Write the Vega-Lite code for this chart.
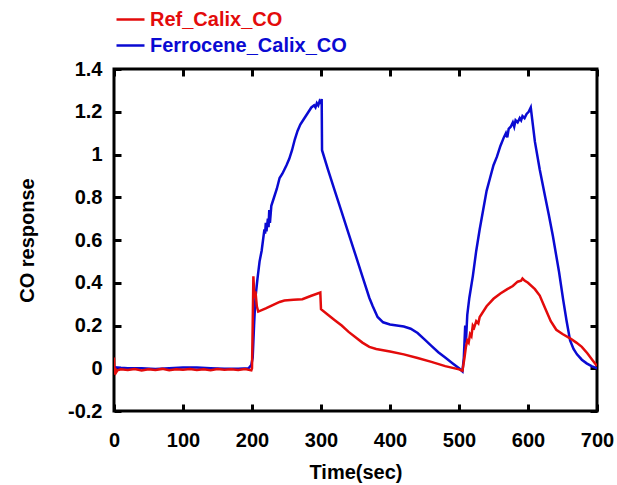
{
  "$schema": "https://vega.github.io/schema/vega-lite/v6.json",
  "autosize": "none",
  "width": 483,
  "height": 342,
  "padding": {"left": 114, "top": 69, "right": 20, "bottom": 74},
  "background": "white",
  "config": {
    "view": {"stroke": "black", "strokeWidth": 3},
    "axis": {
      "domain": false, "grid": false, "labelFlush": false,
      "tickColor": "black", "tickWidth": 3, "tickSize": -7,
      "labelFont": "Liberation Sans", "labelFontWeight": "bold", "labelFontSize": 20, "labelColor": "black",
      "titleFont": "Liberation Sans", "titleFontWeight": "bold", "titleFontSize": 20, "titleColor": "black"
    }
  },
  "datasets": {
    "pts": [
      {"s":"Ferrocene_Calix_CO","t":0,"v":0.005},{"s":"Ferrocene_Calix_CO","t":10,"v":0.002},{"s":"Ferrocene_Calix_CO","t":20,"v":0.0},{"s":"Ferrocene_Calix_CO","t":40,"v":0.0},{"s":"Ferrocene_Calix_CO","t":60,"v":-0.003},{"s":"Ferrocene_Calix_CO","t":80,"v":0.0},{"s":"Ferrocene_Calix_CO","t":100,"v":0.004},{"s":"Ferrocene_Calix_CO","t":120,"v":0.003},{"s":"Ferrocene_Calix_CO","t":140,"v":0.0},{"s":"Ferrocene_Calix_CO","t":160,"v":-0.002},{"s":"Ferrocene_Calix_CO","t":180,"v":-0.002},{"s":"Ferrocene_Calix_CO","t":195,"v":0.0},{"s":"Ferrocene_Calix_CO","t":199,"v":0.015},{"s":"Ferrocene_Calix_CO","t":201,"v":0.05},{"s":"Ferrocene_Calix_CO","t":203,"v":0.2},{"s":"Ferrocene_Calix_CO","t":205,"v":0.33},{"s":"Ferrocene_Calix_CO","t":208,"v":0.42},{"s":"Ferrocene_Calix_CO","t":211,"v":0.5},{"s":"Ferrocene_Calix_CO","t":214,"v":0.55},{"s":"Ferrocene_Calix_CO","t":216,"v":0.6},{"s":"Ferrocene_Calix_CO","t":218,"v":0.65},{"s":"Ferrocene_Calix_CO","t":219,"v":0.63},{"s":"Ferrocene_Calix_CO","t":220,"v":0.68},{"s":"Ferrocene_Calix_CO","t":221,"v":0.64},{"s":"Ferrocene_Calix_CO","t":223,"v":0.7},{"s":"Ferrocene_Calix_CO","t":224,"v":0.66},{"s":"Ferrocene_Calix_CO","t":225,"v":0.74},{"s":"Ferrocene_Calix_CO","t":226,"v":0.68},{"s":"Ferrocene_Calix_CO","t":228,"v":0.76},{"s":"Ferrocene_Calix_CO","t":232,"v":0.8},{"s":"Ferrocene_Calix_CO","t":236,"v":0.84},{"s":"Ferrocene_Calix_CO","t":240,"v":0.89},{"s":"Ferrocene_Calix_CO","t":244,"v":0.91},{"s":"Ferrocene_Calix_CO","t":247,"v":0.93},{"s":"Ferrocene_Calix_CO","t":250,"v":0.95},{"s":"Ferrocene_Calix_CO","t":254,"v":0.98},{"s":"Ferrocene_Calix_CO","t":258,"v":1.02},{"s":"Ferrocene_Calix_CO","t":262,"v":1.07},{"s":"Ferrocene_Calix_CO","t":266,"v":1.11},{"s":"Ferrocene_Calix_CO","t":270,"v":1.14},{"s":"Ferrocene_Calix_CO","t":274,"v":1.16},{"s":"Ferrocene_Calix_CO","t":278,"v":1.18},{"s":"Ferrocene_Calix_CO","t":282,"v":1.2},{"s":"Ferrocene_Calix_CO","t":286,"v":1.22},{"s":"Ferrocene_Calix_CO","t":290,"v":1.23},{"s":"Ferrocene_Calix_CO","t":292,"v":1.22},{"s":"Ferrocene_Calix_CO","t":294,"v":1.24},{"s":"Ferrocene_Calix_CO","t":296,"v":1.23},{"s":"Ferrocene_Calix_CO","t":298,"v":1.25},{"s":"Ferrocene_Calix_CO","t":300,"v":1.24},{"s":"Ferrocene_Calix_CO","t":301,"v":1.26},{"s":"Ferrocene_Calix_CO","t":301.5,"v":1.02},{"s":"Ferrocene_Calix_CO","t":310,"v":0.93},{"s":"Ferrocene_Calix_CO","t":320,"v":0.83},{"s":"Ferrocene_Calix_CO","t":330,"v":0.73},{"s":"Ferrocene_Calix_CO","t":340,"v":0.63},{"s":"Ferrocene_Calix_CO","t":350,"v":0.53},{"s":"Ferrocene_Calix_CO","t":360,"v":0.43},{"s":"Ferrocene_Calix_CO","t":370,"v":0.33},{"s":"Ferrocene_Calix_CO","t":375,"v":0.29},{"s":"Ferrocene_Calix_CO","t":382,"v":0.24},{"s":"Ferrocene_Calix_CO","t":390,"v":0.215},{"s":"Ferrocene_Calix_CO","t":400,"v":0.205},{"s":"Ferrocene_Calix_CO","t":410,"v":0.2},{"s":"Ferrocene_Calix_CO","t":420,"v":0.195},{"s":"Ferrocene_Calix_CO","t":430,"v":0.185},{"s":"Ferrocene_Calix_CO","t":440,"v":0.165},{"s":"Ferrocene_Calix_CO","t":450,"v":0.135},{"s":"Ferrocene_Calix_CO","t":460,"v":0.105},{"s":"Ferrocene_Calix_CO","t":470,"v":0.075},{"s":"Ferrocene_Calix_CO","t":480,"v":0.05},{"s":"Ferrocene_Calix_CO","t":490,"v":0.025},{"s":"Ferrocene_Calix_CO","t":500,"v":0.0},{"s":"Ferrocene_Calix_CO","t":505,"v":-0.015},{"s":"Ferrocene_Calix_CO","t":507,"v":0.05},{"s":"Ferrocene_Calix_CO","t":509,"v":0.2},{"s":"Ferrocene_Calix_CO","t":510,"v":0.12},{"s":"Ferrocene_Calix_CO","t":512,"v":0.25},{"s":"Ferrocene_Calix_CO","t":515,"v":0.33},{"s":"Ferrocene_Calix_CO","t":520,"v":0.43},{"s":"Ferrocene_Calix_CO","t":525,"v":0.55},{"s":"Ferrocene_Calix_CO","t":530,"v":0.65},{"s":"Ferrocene_Calix_CO","t":535,"v":0.74},{"s":"Ferrocene_Calix_CO","t":540,"v":0.83},{"s":"Ferrocene_Calix_CO","t":545,"v":0.89},{"s":"Ferrocene_Calix_CO","t":550,"v":0.95},{"s":"Ferrocene_Calix_CO","t":555,"v":0.99},{"s":"Ferrocene_Calix_CO","t":560,"v":1.04},{"s":"Ferrocene_Calix_CO","t":565,"v":1.08},{"s":"Ferrocene_Calix_CO","t":568,"v":1.1},{"s":"Ferrocene_Calix_CO","t":570,"v":1.08},{"s":"Ferrocene_Calix_CO","t":572,"v":1.12},{"s":"Ferrocene_Calix_CO","t":575,"v":1.13},{"s":"Ferrocene_Calix_CO","t":578,"v":1.15},{"s":"Ferrocene_Calix_CO","t":580,"v":1.13},{"s":"Ferrocene_Calix_CO","t":582,"v":1.16},{"s":"Ferrocene_Calix_CO","t":585,"v":1.15},{"s":"Ferrocene_Calix_CO","t":588,"v":1.17},{"s":"Ferrocene_Calix_CO","t":590,"v":1.16},{"s":"Ferrocene_Calix_CO","t":592,"v":1.18},{"s":"Ferrocene_Calix_CO","t":595,"v":1.17},{"s":"Ferrocene_Calix_CO","t":598,"v":1.19},{"s":"Ferrocene_Calix_CO","t":601,"v":1.2},{"s":"Ferrocene_Calix_CO","t":604,"v":1.22},{"s":"Ferrocene_Calix_CO","t":610,"v":1.06},{"s":"Ferrocene_Calix_CO","t":617,"v":0.93},{"s":"Ferrocene_Calix_CO","t":625,"v":0.8},{"s":"Ferrocene_Calix_CO","t":630,"v":0.72},{"s":"Ferrocene_Calix_CO","t":636,"v":0.62},{"s":"Ferrocene_Calix_CO","t":645,"v":0.45},{"s":"Ferrocene_Calix_CO","t":651,"v":0.32},{"s":"Ferrocene_Calix_CO","t":656,"v":0.22},{"s":"Ferrocene_Calix_CO","t":661,"v":0.13},{"s":"Ferrocene_Calix_CO","t":666,"v":0.09},{"s":"Ferrocene_Calix_CO","t":671,"v":0.065},{"s":"Ferrocene_Calix_CO","t":678,"v":0.04},{"s":"Ferrocene_Calix_CO","t":685,"v":0.023},{"s":"Ferrocene_Calix_CO","t":692,"v":0.01},{"s":"Ferrocene_Calix_CO","t":700,"v":0.0},
      {"s":"Ref_Calix_CO","t":0,"v":0.05},{"s":"Ref_Calix_CO","t":1,"v":-0.03},{"s":"Ref_Calix_CO","t":2,"v":0.0},{"s":"Ref_Calix_CO","t":3,"v":-0.02},{"s":"Ref_Calix_CO","t":5,"v":-0.01},{"s":"Ref_Calix_CO","t":10,"v":-0.005},{"s":"Ref_Calix_CO","t":20,"v":-0.008},{"s":"Ref_Calix_CO","t":30,"v":-0.004},{"s":"Ref_Calix_CO","t":40,"v":-0.01},{"s":"Ref_Calix_CO","t":50,"v":-0.005},{"s":"Ref_Calix_CO","t":60,"v":-0.008},{"s":"Ref_Calix_CO","t":70,"v":-0.003},{"s":"Ref_Calix_CO","t":80,"v":-0.009},{"s":"Ref_Calix_CO","t":90,"v":-0.005},{"s":"Ref_Calix_CO","t":100,"v":-0.007},{"s":"Ref_Calix_CO","t":110,"v":-0.004},{"s":"Ref_Calix_CO","t":120,"v":-0.008},{"s":"Ref_Calix_CO","t":130,"v":-0.005},{"s":"Ref_Calix_CO","t":140,"v":-0.009},{"s":"Ref_Calix_CO","t":150,"v":-0.004},{"s":"Ref_Calix_CO","t":160,"v":-0.007},{"s":"Ref_Calix_CO","t":170,"v":-0.005},{"s":"Ref_Calix_CO","t":180,"v":-0.008},{"s":"Ref_Calix_CO","t":190,"v":-0.004},{"s":"Ref_Calix_CO","t":199,"v":-0.01},{"s":"Ref_Calix_CO","t":200,"v":0.0},{"s":"Ref_Calix_CO","t":201,"v":0.2},{"s":"Ref_Calix_CO","t":202,"v":0.43},{"s":"Ref_Calix_CO","t":203.5,"v":0.33},{"s":"Ref_Calix_CO","t":205,"v":0.36},{"s":"Ref_Calix_CO","t":207,"v":0.29},{"s":"Ref_Calix_CO","t":209,"v":0.265},{"s":"Ref_Calix_CO","t":220,"v":0.28},{"s":"Ref_Calix_CO","t":230,"v":0.295},{"s":"Ref_Calix_CO","t":240,"v":0.31},{"s":"Ref_Calix_CO","t":247,"v":0.317},{"s":"Ref_Calix_CO","t":260,"v":0.32},{"s":"Ref_Calix_CO","t":273,"v":0.323},{"s":"Ref_Calix_CO","t":285,"v":0.338},{"s":"Ref_Calix_CO","t":299,"v":0.354},{"s":"Ref_Calix_CO","t":300,"v":0.276},{"s":"Ref_Calix_CO","t":310,"v":0.25},{"s":"Ref_Calix_CO","t":320,"v":0.225},{"s":"Ref_Calix_CO","t":330,"v":0.2},{"s":"Ref_Calix_CO","t":340,"v":0.17},{"s":"Ref_Calix_CO","t":350,"v":0.145},{"s":"Ref_Calix_CO","t":360,"v":0.12},{"s":"Ref_Calix_CO","t":370,"v":0.1},{"s":"Ref_Calix_CO","t":380,"v":0.09},{"s":"Ref_Calix_CO","t":400,"v":0.078},{"s":"Ref_Calix_CO","t":420,"v":0.065},{"s":"Ref_Calix_CO","t":440,"v":0.048},{"s":"Ref_Calix_CO","t":460,"v":0.03},{"s":"Ref_Calix_CO","t":480,"v":0.01},{"s":"Ref_Calix_CO","t":500,"v":-0.005},{"s":"Ref_Calix_CO","t":505,"v":-0.012},{"s":"Ref_Calix_CO","t":508,"v":0.05},{"s":"Ref_Calix_CO","t":510,"v":0.1},{"s":"Ref_Calix_CO","t":512,"v":0.13},{"s":"Ref_Calix_CO","t":514,"v":0.12},{"s":"Ref_Calix_CO","t":516,"v":0.16},{"s":"Ref_Calix_CO","t":518,"v":0.15},{"s":"Ref_Calix_CO","t":520,"v":0.2},{"s":"Ref_Calix_CO","t":522,"v":0.19},{"s":"Ref_Calix_CO","t":525,"v":0.22},{"s":"Ref_Calix_CO","t":528,"v":0.21},{"s":"Ref_Calix_CO","t":530,"v":0.24},{"s":"Ref_Calix_CO","t":540,"v":0.29},{"s":"Ref_Calix_CO","t":550,"v":0.325},{"s":"Ref_Calix_CO","t":560,"v":0.35},{"s":"Ref_Calix_CO","t":570,"v":0.37},{"s":"Ref_Calix_CO","t":578,"v":0.385},{"s":"Ref_Calix_CO","t":585,"v":0.405},{"s":"Ref_Calix_CO","t":590,"v":0.41},{"s":"Ref_Calix_CO","t":592,"v":0.42},{"s":"Ref_Calix_CO","t":595,"v":0.41},{"s":"Ref_Calix_CO","t":600,"v":0.4},{"s":"Ref_Calix_CO","t":610,"v":0.37},{"s":"Ref_Calix_CO","t":617,"v":0.34},{"s":"Ref_Calix_CO","t":625,"v":0.28},{"s":"Ref_Calix_CO","t":633,"v":0.22},{"s":"Ref_Calix_CO","t":641,"v":0.18},{"s":"Ref_Calix_CO","t":650,"v":0.16},{"s":"Ref_Calix_CO","t":661,"v":0.14},{"s":"Ref_Calix_CO","t":670,"v":0.12},{"s":"Ref_Calix_CO","t":678,"v":0.1},{"s":"Ref_Calix_CO","t":686,"v":0.07},{"s":"Ref_Calix_CO","t":693,"v":0.04},{"s":"Ref_Calix_CO","t":700,"v":0.01}
    ]
  },
  "data": {"name": "pts"},
  "layer": [
    {
      "transform": [{"filter": "datum.s === 'Ferrocene_Calix_CO'"}],
      "mark": {"type": "line", "strokeWidth": 2.5, "clip": true},
      "encoding": {
        "x": {"field": "t", "type": "quantitative", "scale": {"domain": [0, 700], "nice": false, "zero": false},
              "axis": {"orient": "bottom", "title": "Time(sec)", "values": [0,100,200,300,400,500,600,700], "labelPadding": 26, "titlePadding": 12}},
        "y": {"field": "v", "type": "quantitative", "scale": {"domain": [-0.2, 1.4], "nice": false, "zero": false},
              "axis": {"orient": "left", "title": "CO response", "values": [-0.2,0,0.2,0.4,0.6,0.8,1,1.2,1.4], "format": "~g", "labelExpr": "replace(datum.label, '\u2212', '-')", "labelPadding": 19, "titlePadding": 30}},
        "color": {"field": "s", "type": "nominal",
                  "scale": {"domain": ["Ref_Calix_CO", "Ferrocene_Calix_CO"], "range": ["#e30b0b", "#0a0ad2"]},
                  "legend": {"orient": "none", "legendX": 1, "legendY": -65, "title": null, "padding": 0,
                             "symbolType": "stroke", "symbolSize": 784, "symbolStrokeWidth": 2.5,
                             "labelFont": "Liberation Sans", "labelFontWeight": "bold", "labelFontSize": 20,
                             "labelOffset": 4, "rowPadding": 0, "labelLimit": 400,
                             "encode": {"labels": {"update": {"fill": {"signal": "datum.label === 'Ref_Calix_CO' ? '#e30b0b' : '#0a0ad2'"}}}}}}
      }
    },
    {
      "transform": [{"filter": "datum.s === 'Ref_Calix_CO'"}],
      "mark": {"type": "line", "strokeWidth": 2.5, "clip": true},
      "encoding": {
        "x": {"field": "t", "type": "quantitative", "scale": {"domain": [0, 700], "nice": false, "zero": false},
              "axis": {"orient": "top", "title": null, "labels": false, "values": [0,100,200,300,400,500,600,700]}},
        "y": {"field": "v", "type": "quantitative", "scale": {"domain": [-0.2, 1.4], "nice": false, "zero": false},
              "axis": {"orient": "right", "title": null, "labels": false, "values": [-0.2,0,0.2,0.4,0.6,0.8,1,1.2,1.4]}},
        "color": {"field": "s", "type": "nominal"}
      }
    }
  ],
  "resolve": {"axis": {"x": "independent", "y": "independent"}}
}
